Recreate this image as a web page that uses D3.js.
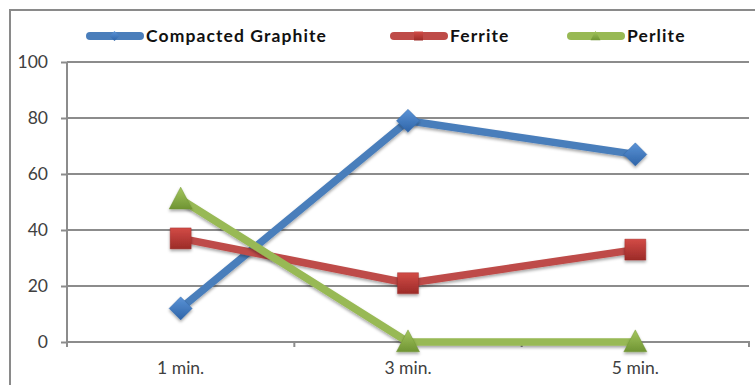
<!DOCTYPE html>
<html><head><meta charset="utf-8">
<script src="https://cdn.jsdelivr.net/npm/d3@7"></script>
<style>
html,body{margin:0;padding:0;background:#fff;}
svg{display:block;}
</style>
</head><body>
<script>
const categories = ["1 min.", "3 min.", "5 min."];
const compactedGraphite = [12, 79, 67];
const ferrite = [37, 21, 33];
const perlite = [51, 0, 0];
const yTicks = [0, 20, 40, 60, 80, 100];
const seriesNames = ["Compacted Graphite", "Ferrite", "Perlite"];

const series = [
  {name: seriesNames[0], values: compactedGraphite, color: "#4A7EBB", light: "#5B93D6", dark: "#2E64A8", shape: "diamond"},
  {name: seriesNames[1], values: ferrite, color: "#BE4B48", light: "#D24B46", dark: "#9C2B28", shape: "square"},
  {name: seriesNames[2], values: perlite, color: "#98B954", light: "#A4C65E", dark: "#6F9433", shape: "triangle"}
];

const W = 755, H = 385;
const svg = d3.select("body").append("svg").attr("width", W).attr("height", H);
const defs = svg.append("defs");
const f = defs.append("filter").attr("id","shadow").attr("x","-50%").attr("y","-50%").attr("width","200%").attr("height","200%");
f.append("feDropShadow").attr("dx",0).attr("dy",2).attr("stdDeviation",1.5).attr("flood-color","#000").attr("flood-opacity",0.35);
series.forEach((s,i)=>{
  const g = defs.append("linearGradient").attr("id","grad"+i).attr("x1",0).attr("y1",0).attr("x2",0).attr("y2",1);
  g.append("stop").attr("offset","0%").attr("stop-color",s.light);
  g.append("stop").attr("offset","100%").attr("stop-color",s.dark);
});

// outer frame
svg.append("rect").attr("x",10).attr("y",10).attr("width",760).attr("height",400)
  .attr("fill","none").attr("stroke","#8A8A8A").attr("stroke-width",2);

const pLeft = 67, pRight = 749, pTop = 62, pBottom = 342;
const x = d3.scaleBand().domain(categories).range([pLeft, pRight]);
const y = d3.scaleLinear().domain([0, 100]).range([pBottom, pTop]);

// gridlines
svg.append("g").selectAll("line").data(yTicks.filter(d=>d>0)).join("line")
  .attr("x1", pLeft).attr("x2", pRight).attr("y1", d=>y(d)).attr("y2", d=>y(d))
  .attr("stroke","#8C8C8C").attr("stroke-width",2);

// y axis
const yAxis = svg.append("g").attr("transform",`translate(${pLeft},0)`)
  .call(d3.axisLeft(y).tickValues(yTicks).tickSize(6).tickPadding(13));
yAxis.select(".domain").attr("stroke","#8C8C8C").attr("stroke-width",2).attr("d",`M0,${pTop}V${pBottom+5}`);
yAxis.selectAll(".tick line").attr("stroke","#8C8C8C").attr("stroke-width",2);
yAxis.selectAll("text").attr("font-family","Lato, 'Open Sans', sans-serif").attr("font-size",17.5).attr("fill","#404040");

// x axis
const xAxis = svg.append("g").attr("transform",`translate(0,${pBottom})`)
  .call(d3.axisBottom(x).tickSize(0).tickPadding(20));
xAxis.select(".domain").attr("stroke","#8C8C8C").attr("stroke-width",2).attr("d",`M${pLeft},0H${pRight}V5`);
xAxis.selectAll("text").attr("font-family","Lato, 'Open Sans', sans-serif").attr("font-size",17.5).attr("fill","#404040");
svg.append("g").selectAll("line").data(categories.slice(1)).join("line")
  .attr("x1", d=>x(d)).attr("x2", d=>x(d)).attr("y1", pBottom).attr("y2", pBottom+5)
  .attr("stroke","#8C8C8C").attr("stroke-width",2);

function markerPath(shape, size){
  if(shape==="diamond") { const r=size*0.55; return `M0,${-r}L${r},0L0,${r}L${-r},0Z`; }
  if(shape==="square") { const r=size/2; return `M${-r},${-r}H${r}V${r}H${-r}Z`; }
  const r=size*0.55; return `M0,${-r*1.05}L${r},${r*0.85}L${-r},${r*0.85}Z`;
}

const line = d3.line().x((d,i)=>x(categories[i]) + x.bandwidth()/2).y(d=>y(d));
series.forEach((s,i)=>{
  const g = svg.append("g");
  g.append("path").attr("d", line(s.values)).attr("fill","none").attr("stroke",s.color)
    .attr("stroke-width",7.5).attr("stroke-linejoin","round").attr("filter","url(#shadow)");
  g.selectAll("path.m").data(s.values).join("path").attr("class","m")
    .attr("transform",(d,j)=>`translate(${x(categories[j])+x.bandwidth()/2},${y(d)})`)
    .attr("d", markerPath(s.shape, 21))
    .attr("fill",`url(#grad${i})`).attr("stroke",s.dark).attr("stroke-width",1).attr("stroke-opacity",0.4)
    .attr("filter","url(#shadow)");
});

// legend
const legendItems = [
  {lx: 86, tx: 146},
  {lx: 390, tx: 450},
  {lx: 567, tx: 627}
];
const ly = 36;
series.forEach((s,i)=>{
  const it = legendItems[i];
  const g = svg.append("g");
  g.append("line").attr("x1",it.lx+4).attr("x2",it.lx+54).attr("y1",ly).attr("y2",ly)
    .attr("stroke",s.color).attr("stroke-width",8).attr("stroke-linecap","round");
  g.append("path").attr("transform",`translate(${it.lx+28.5},${ly})`).attr("d",markerPath(s.shape, 9))
    .attr("fill",`url(#grad${i})`);
  g.append("text").attr("x",it.tx).attr("y",ly).attr("dy","0.35em")
    .attr("font-family","Lato, 'Open Sans', sans-serif").attr("font-weight","bold").attr("font-size",17.5)
    .attr("letter-spacing",1.1)
    .attr("fill","#111").text(s.name);
});
</script>
</body></html>
